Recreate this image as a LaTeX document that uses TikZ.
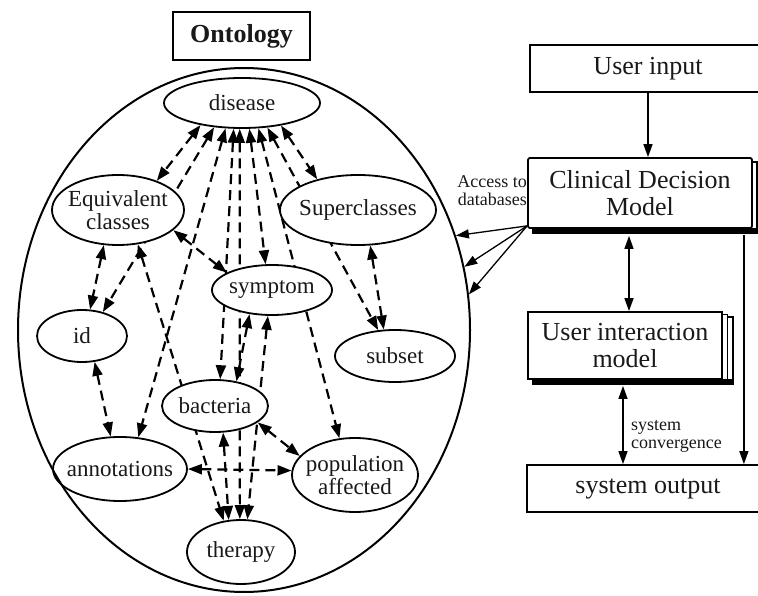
\documentclass[tikz,border=0pt]{standalone}
\usepackage{fontspec}
\setmainfont{Liberation Serif}
\usetikzlibrary{shapes.geometric,arrows.meta,backgrounds}
\begin{document}
\begin{tikzpicture}[x=1pt,y=-1pt,
  concept/.style={ellipse, draw, line width=1.8pt, fill=white, inner sep=-8pt,
    align=center, text=black!90, font=\fontsize{23}{23}\selectfont},
  rel/.style={line width=2.2pt, dash pattern=on 10pt off 6pt,
    {Triangle[length=14pt,width=10pt]}-{Triangle[length=14pt,width=10pt]}},
  block/.style={rectangle, draw, line width=1.8pt, fill=white, inner sep=0pt,
    align=center, text=black!90, font=\fontsize{26}{27}\selectfont},
  flow/.style={line width=1.3pt, -{Triangle[length=13pt,width=9pt]}},
  flowboth/.style={line width=1.3pt,
    {Triangle[length=13pt,width=9pt]}-{Triangle[length=13pt,width=9pt]}},
  note/.style={inner sep=0pt, text=black!90, font=\fontsize{18}{18}\selectfont},
  panel/.style={line width=1.3pt, fill=white},
]
\useasboundingbox (0,0) rectangle (758,596);

% ---------------- ontology ----------------
\node[block, line width=2.2pt, minimum width=137pt, minimum height=48pt,
      font=\fontsize{26}{27}\selectfont\bfseries] (ontology) at (241.5,36) {Ontology};

\node[concept, minimum width=156pt, minimum height=50pt] (disease)  at (242,103) {disease};
\node[concept, minimum width=132pt, minimum height=70pt] (equiv)    at (118,210) {Equivalent\\classes};
\node[concept, minimum width=156pt, minimum height=70pt] (super)    at (358,210) {Superclasses};
\node[concept, minimum width=120pt, minimum height=50pt] (symptom)  at (272,290) {symptom};
\node[concept, minimum width=90pt,  minimum height=52pt] (id)       at (82,336)  {id};
\node[concept, minimum width=120pt, minimum height=52pt] (subset)   at (395,356) {subset};
\node[concept, minimum width=106pt, minimum height=52pt] (bacteria) at (215,406) {bacteria};
\node[concept, minimum width=134pt, minimum height=64pt] (annot)    at (120,469) {annotations};
\node[concept, minimum width=126pt, minimum height=74pt] (pop)      at (355,475) {population\\affected};
\node[concept, minimum width=108pt, minimum height=64pt] (therapy)  at (241,552) {therapy};

\node[ellipse, draw, line width=2pt, minimum width=452pt, minimum height=524pt,
      inner sep=0pt] (onto) at (244,330) {};

% relations run underneath the concept ellipses
\begin{scope}[on background layer]
  \draw[rel] (disease.-152) -- (equiv.37);
  \draw[rel] (disease.-139) -- (id.49);
  \draw[rel] (disease.-123) -- (annot.60);
  \draw[rel] (disease.-108) -- (bacteria.79);
  \draw[rel] (disease.-95)  -- (therapy.92);
  \draw[rel] (disease.-74)  -- (symptom.104);
  \draw[rel] (disease.-57)  -- (pop.113);
  \draw[rel] (disease.-44)  -- (subset.123);
  \draw[rel] (disease.-30)  -- (super.143);
  \draw[rel] (equiv.-112)   -- (id.73);
  \draw[rel] (equiv.-20)    -- (symptom.159);
  \draw[rel] (equiv.-60)    -- (therapy.119);
  \draw[rel] (id.-64)       -- (annot.106);
  \draw[rel] (super.-71)    -- (subset.113);
  \draw[rel] (symptom.-133) -- (bacteria.49);
  \draw[rel] (symptom.-99)  -- (therapy.79);
  \draw[rel] (bacteria.-21) -- (pop.161);
  \draw[rel] (annot.0)      -- (pop.176);
  \draw[rel] (bacteria.-73) -- (therapy.111);
\end{scope}

% ---------------- decision side ----------------
\node[block, minimum width=236pt, minimum height=47pt] (ui) at (648,68.5) {User input};

% stacked look of the decision model box
\draw[panel] (533,162) rectangle (757,233);
\fill (533,228) rectangle (757,234);
\node[block, rounded corners=2pt, minimum width=224pt, minimum height=70pt] (cdm)
      at (640,193) {Clinical Decision\\Model};

% stacked look of the interaction model box
\draw[panel] (538,317) rectangle (733,384);
\draw[panel] (533,314.5) rectangle (727.5,381.5);
\fill (532,379) rectangle (733,385);
\node[block, minimum width=194pt, minimum height=67pt] (uim)
      at (625,345.5) {User interaction\\model};

\node[block, minimum width=242pt, minimum height=47pt] (sysout) at (648,488.5) {system output};

\coordinate (cdmBL) at ([yshift=3pt]cdm.south west);
\coordinate (cdmS)  at ([xshift=-11pt,yshift=-7pt]cdm.south);
\coordinate (cdmSE) at ([xshift=-9pt,yshift=-6pt]cdm.south east);
\coordinate (uimS)  at ([xshift=-2pt,yshift=-6pt]uim.south);

\draw[flow] (ui.south) -- (ui.south |- cdm.north);
\draw[flowboth] (cdmS) -- (cdmS |- uim.north);
\draw[flow] (cdmSE) -- (cdmSE |- sysout.north);
\draw[flowboth] (uimS) -- (uimS |- sysout.north);

\draw[flow] (cdmBL) -- (onto.24);
\draw[flow] (cdmBL) -- (onto.16);
\draw[flow] (cdmBL) -- (onto.9);

\node[note, align=right, anchor=east] (access) at (527,191) {Access to\\databases};
\node[note, align=left, anchor=west] (conv) at (631,436) {system\\convergence};
\end{tikzpicture}
\end{document}
